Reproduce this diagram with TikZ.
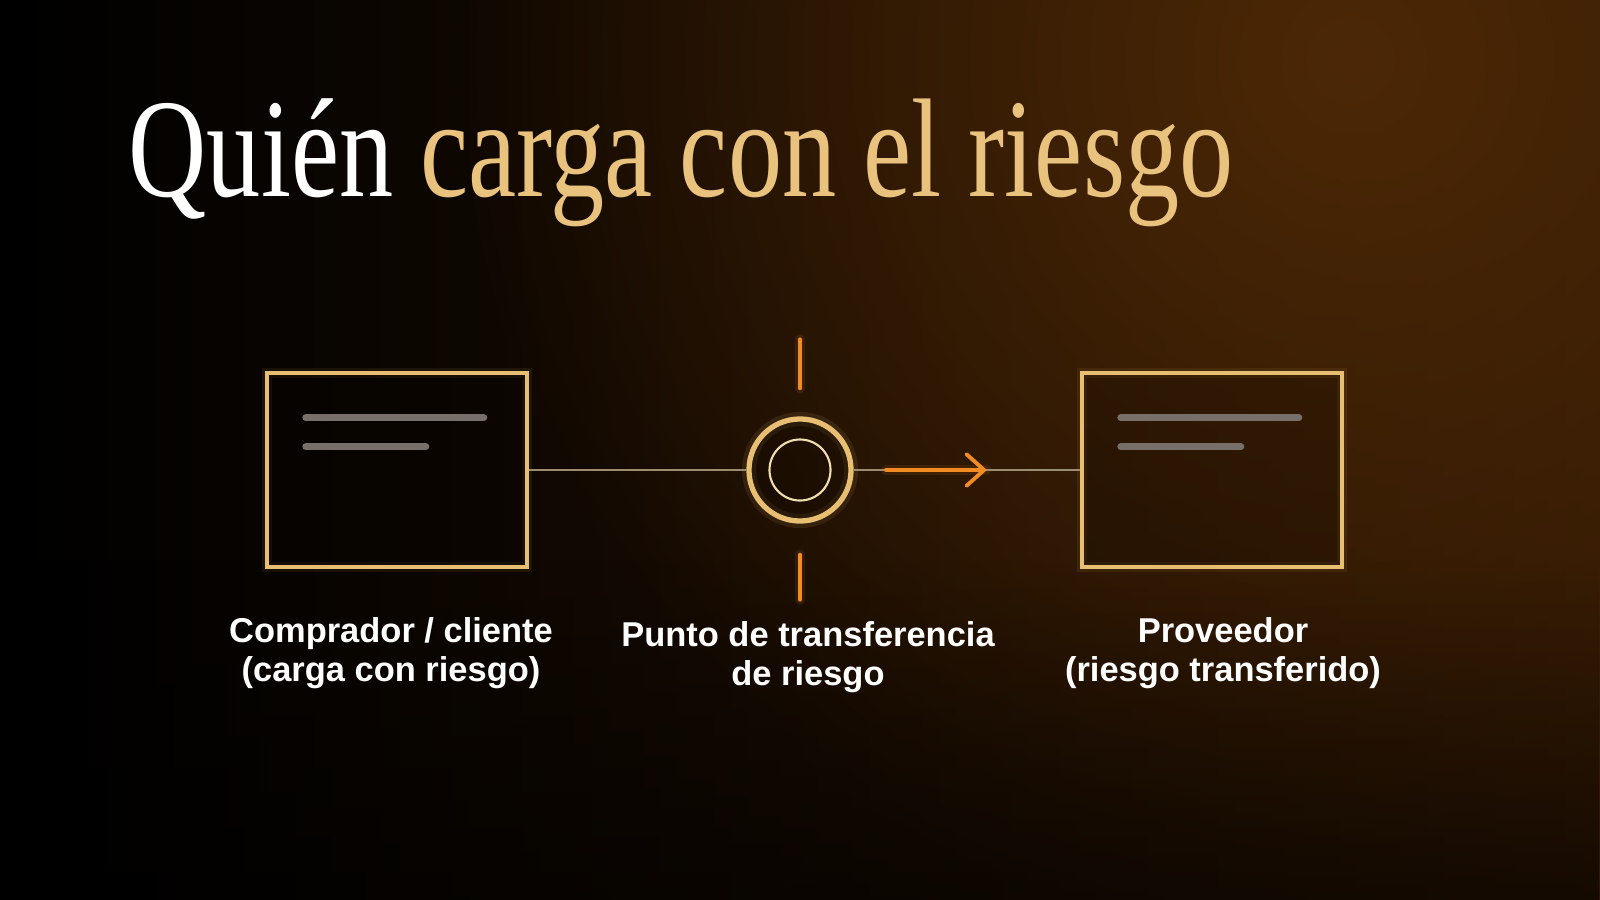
\documentclass[tikz,border=0pt]{standalone}
\usepackage{fontspec}
\setmainfont{Liberation Serif}
\setsansfont{Liberation Sans}
\usetikzlibrary{positioning}
\usetikzlibrary{arrows.meta}
\usetikzlibrary{fadings}

\definecolor{gold}{HTML}{E8BE72}
\definecolor{titlegold}{HTML}{E9C27E}
\definecolor{cream}{HTML}{F2DDAE}
\definecolor{riskorange}{HTML}{F28C22}
\definecolor{wire}{HTML}{9C8C72}
\definecolor{barcol}{HTML}{77706A}
\definecolor{bgbrown}{HTML}{2E1704}
\definecolor{glowbrown}{HTML}{4C2806}

\tikzfading[name=softglow, inner color=transparent!0, outer color=transparent!100]

\begin{document}
\begin{tikzpicture}[x=0.01cm, y=-0.01cm,
    party/.style={draw=gold, line width=1.2pt, fill=black, fill opacity=0.2,
      minimum width=2.6cm, minimum height=1.94cm, inner sep=0pt,
      preaction={draw=gold, draw opacity=0.08, line width=3pt}},
    hub/.style={circle, draw=gold, line width=1.5pt, fill=black, fill opacity=0.2,
      minimum size=1.02cm, inner sep=0pt,
      preaction={draw=gold, draw opacity=0.1, line width=4pt}},
    ring/.style={circle, draw=cream, line width=0.6pt, minimum size=0.61cm, inner sep=0pt},
    barline/.style={draw=barcol, line width=2pt, line cap=round},
    wireline/.style={draw=wire, line width=0.6pt},
    riskline/.style={draw=riskorange, line width=1.1pt, line cap=round},
    riskglow/.style={draw=riskorange, draw opacity=0.1, line width=3pt, line cap=round},
    lbl/.style={font=\sffamily\bfseries\fontsize{9.8}{11.1}\selectfont,
      text=white, align=center}]

    \useasboundingbox (0,0) rectangle (1600,900);

    % Background
    \begin{scope}
      \clip (0,0) rectangle (1600,900);
      \shade[left color=black, right color=bgbrown] (0,0) rectangle (1600,900);
      \fill[glowbrown, path fading=softglow] (1350,60) circle (900);
      \fill[black, opacity=0.55, path fading=north] (0,560) rectangle (1600,900);
    \end{scope}

    % Title
    \node[anchor=base west, inner sep=0pt, font=\fontsize{40}{40}\selectfont] (title)
      at (128,196) {\scalebox{0.77}[1]{\color{white}Quién \color{titlegold}carga con el riesgo}};

    % Parties and transfer point
    \node[party] (buyer) at (397,470) {};
    \node[party] (supplier) at (1212,470) {};
    \node[hub] (xfer) at (800,470) {};
    \node[ring] (xferin) at (xfer) {};

    \foreach \p in {buyer,supplier} {
      \draw[barline] ([shift={(41,47)}]\p.north west) -- ++(178,0);
      \draw[barline] ([shift={(41,76)}]\p.north west) -- ++(120,0);
    }

    % Ticks
    \foreach \s in {riskglow,riskline} {
      \draw[\s] ([shift={(0,-77)}]xfer.north) -- ([shift={(0,-28)}]xfer.north);
      \draw[\s] ([shift={(0,31)}]xfer.south) -- ([shift={(0,76)}]xfer.south);
    }

    % Connectors
    \draw[wireline] (buyer) -- (xfer);
    \draw[wireline] (xfer) -- (supplier);
    \coordinate (arrowtail) at (886,470);
    \coordinate (arrowtip) at (986,470);
    \draw[riskglow] (arrowtail) -- (arrowtip);
    \draw[riskline, -{Straight Barb[length=5pt, width=9pt, round]}] (arrowtail) -- (arrowtip);

    % Labels
    \node[lbl] (buyerlbl) at (391,653) {Comprador / cliente\\(carga con riesgo)};
    \node[lbl] (xferlbl) at (808,657) {Punto de transferencia\\de riesgo};
    \node[lbl] (supplierlbl) at (1223,653) {Proveedor\\(riesgo transferido)};
  \end{tikzpicture}
\end{document}
